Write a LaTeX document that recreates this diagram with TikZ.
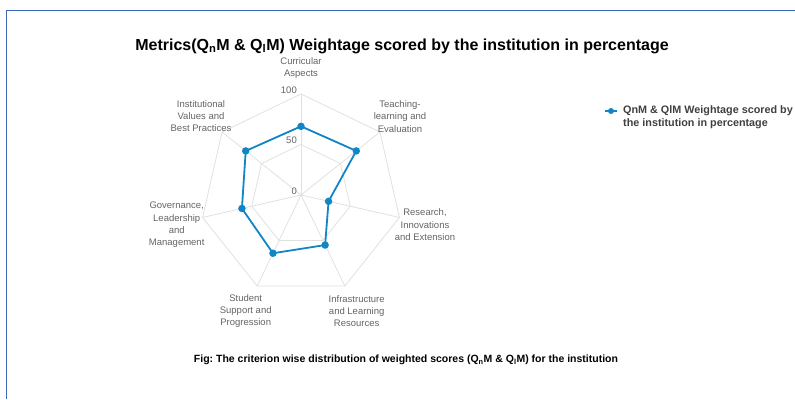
\documentclass[tikz,border=0pt]{standalone}
\usepackage{fontspec}
\setmainfont{Liberation Sans}
\usepackage{xcolor}
\definecolor{serieblue}{RGB}{16,134,198}
\definecolor{gridgray}{RGB}{224,224,224}
\definecolor{labelgray}{RGB}{100,100,100}
\definecolor{frameblue}{RGB}{60,104,186}
\frenchspacing

\begin{document}
\begin{tikzpicture}[x=1pt,y=1pt,
  axislabel/.style={font=\fontsize{9.5}{12.3}\selectfont, text=labelgray, align=center, inner sep=0pt},
  ticklabel/.style={font=\fontsize{9.5}{11}\selectfont, text=labelgray, anchor=east, inner sep=0pt},
  gridline/.style={draw=gridgray, line width=0.8pt},
  serie/.style={draw=serieblue, line width=1.8pt, line join=round},
  dot/.style={circle, fill=serieblue, inner sep=0pt, minimum size=7.5pt}]
  \useasboundingbox (0,0) rectangle (795,399);
  \draw[frameblue, line width=1pt] (795,388.7) -- (6.3,388.7) -- (6.3,0);

  \node (title) at (402,353) {\fontsize{16}{18}\selectfont\bfseries Metrics(Q\textsubscript{n}M \& Q\textsubscript{l}M) Weightage scored by the institution in percentage};

  \begin{scope}[shift={(301,204)}]
    \foreach \k in {0,...,6} {
      \coordinate (a\k) at ({90-\k*360/7}:101);
      \coordinate (h\k) at ({90-\k*360/7}:50.5);
      \draw[gridline] (0,0) -- (a\k);
    }
    \draw[gridline] (a0) \foreach \k in {1,...,6} { -- (a\k) } -- cycle;
    \draw[gridline] (h0) \foreach \k in {1,...,6} { -- (h\k) } -- cycle;
    % scores
    \foreach \v [count=\k from 0] in {68,70,28,55,64,60,70}
      \coordinate (p\k) at ({90-\k*360/7}:{1.01*\v});
    \draw[serie] (p0) \foreach \k in {1,...,6} { -- (p\k) } -- cycle;
    \foreach \k in {0,...,6}
      \node[dot] (d\k) at (p\k) {};
  \end{scope}

  \node[ticklabel] (t100) at (297,309) {100};
  \node[ticklabel] (t50) at (297,259) {50};
  \node[ticklabel] (t0) at (297,208) {0};

  \node[axislabel] (ca) at (301,331) {Curricular\\Aspects};
  \node[axislabel] (tl) at (400,282.5) {Teaching-\\learning and\\Evaluation};
  \node[axislabel] (ri) at (425,174.3) {Research,\\Innovations\\and Extension};
  \node[axislabel] (il) at (356.7,88) {Infrastructure\\and Learning\\Resources};
  \node[axislabel] (ss) at (245.7,88) {Student\\Support and\\Progression};
  \node[axislabel] (gl) at (176.7,174) {Governance,\\Leadership\\and\\Management};
  \node[axislabel] (iv) at (201,283) {Institutional\\Values and\\Best Practices};

  % legend
  \coordinate (l1) at (605,288);
  \coordinate (l2) at (617,288);
  \draw[serie, line width=1.5pt] (l1) -- (l2);
  \node[dot, minimum size=6pt] (ld) at (611,288) {};
  \node[anchor=west, align=left, inner sep=0pt, font=\fontsize{10.8}{13}\selectfont\bfseries, text=black!75] (lt) at (623,281.5) {QnM \& QlM Weightage scored by\\the institution in percentage};

  \node (fig) at (406,39) {\fontsize{10.5}{12}\selectfont\bfseries Fig: The criterion wise distribution of weighted scores (Q\textsubscript{n}M \& Q\textsubscript{l}M) for the institution};
\end{tikzpicture}
\end{document}
